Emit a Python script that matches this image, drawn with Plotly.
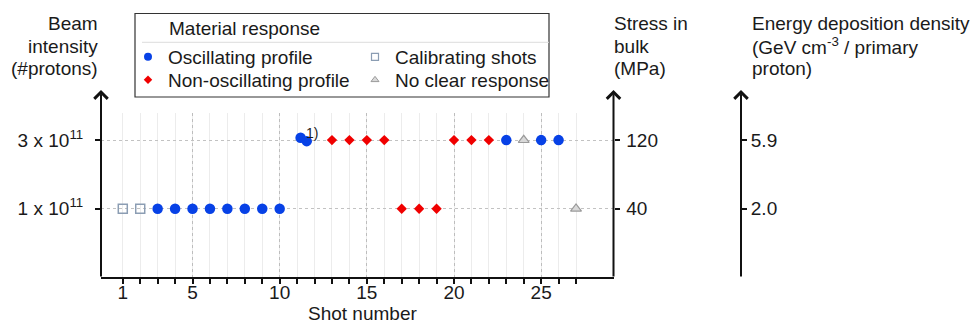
import plotly.graph_objects as go

# ---------------- data ----------------
calib_x = [1, 2]
calib_y = [1, 1]
osc_x = [3, 4, 5, 6, 7, 8, 9, 10, 11.2, 11.55, 23, 25, 26]
osc_y = [1, 1, 1, 1, 1, 1, 1, 1, 3.07, 2.97, 3, 3, 3]
nonosc_x = [13, 14, 15, 16, 17, 18, 19, 20, 21, 22]
nonosc_y = [3, 3, 3, 3, 1, 1, 1, 3, 3, 3]
noclear_x = [24, 27]
noclear_y = [3, 1]

intensity_levels = [1, 3]
intensity_labels = ["1 x 10<sup>11</sup>", "3 x 10<sup>11</sup>"]
stress_labels = ["40", "120"]
energy_labels = ["2.0", "5.9"]
shot_major = [1, 5, 10, 15, 20, 25]
shot_minor = [s for s in range(1, 28) if s not in shot_major]
shot_dotted = [5, 10, 15, 20, 25]

FONT = "Liberation Sans, Arial, sans-serif"
FS = 19
TXT = "#1a1a1a"
AX = "#111111"

BLUE = "#0741e6"
RED = "#f00000"

# plot area in pixels
L, R, T, B = 101, 741, 113, 277
W, H = R - L, B - T
X_RIGHT_AXIS = 613.5


def px(xp):
    return (xp - L) / W


def py(yp):
    return (B - yp) / H


fig = go.Figure()

# data traces
fig.add_trace(go.Scatter(x=calib_x, y=calib_y, mode="markers", showlegend=False,
                         marker=dict(symbol="square-open", size=9, color="#8b9db3",
                                     line=dict(width=1.5, color="#8b9db3"))))
fig.add_trace(go.Scatter(x=osc_x, y=osc_y, mode="markers", showlegend=False,
                         marker=dict(symbol="circle", size=10.5, color=BLUE,
                                     line=dict(width=0))))
fig.add_trace(go.Scatter(x=nonosc_x, y=nonosc_y, mode="markers", showlegend=False,
                         marker=dict(symbol="diamond", size=8, color=RED,
                                     line=dict(width=0))))
fig.add_trace(go.Scatter(x=noclear_x, y=noclear_y, mode="markers", showlegend=False,
                         marker=dict(symbol="triangle-up", size=9.5, color="#d9d9d9",
                                     line=dict(width=1.2, color="#9a9a9a"))))

# legend-only entries (two rows, one legend per row)
fig.add_trace(go.Scatter(x=[None], y=[None], mode="markers", name="Oscillating profile",
                         legend="legend",
                         marker=dict(symbol="circle", size=8, color=BLUE)))
fig.add_trace(go.Scatter(x=[None], y=[None], mode="markers", name="Calibrating shots",
                         legend="legend",
                         marker=dict(symbol="square-open", size=7, color="#8b9db3",
                                     line=dict(width=1.2, color="#8b9db3"))))
fig.add_trace(go.Scatter(x=[None], y=[None], mode="markers", name="Non-oscillating profile",
                         legend="legend2",
                         marker=dict(symbol="diamond", size=6.5, color=RED)))
fig.add_trace(go.Scatter(x=[None], y=[None], mode="markers", name="No clear response",
                         legend="legend2",
                         marker=dict(symbol="triangle-up", size=7, color="#d9d9d9",
                                     line=dict(width=1, color="#9a9a9a"))))

xdom = [0, px(X_RIGHT_AXIS)]
xrange_ = [-0.25, 29.15]
yrange_ = [-0.99, 3.79]

leg_common = dict(orientation="h", bgcolor="rgba(0,0,0,0)", borderwidth=0,
                  font=dict(family=FONT, size=FS, color=TXT),
                  xanchor="left", yanchor="top", entrywidth=182,
                  entrywidthmode="pixels", itemclick=False, itemdoubleclick=False)

fig.update_layout(
    width=974, height=326,
    margin=dict(l=L, r=974 - R, t=T, b=326 - B, pad=0),
    paper_bgcolor="white", plot_bgcolor="white",
    font=dict(family=FONT, size=FS, color=TXT),
    legend=dict(x=px(128), y=py(38), **leg_common),
    legend2=dict(x=px(128), y=py(61), **leg_common),
    xaxis=dict(
        domain=xdom, range=xrange_, showline=True, linewidth=2, linecolor=AX,
        tickmode="array", tickvals=shot_major, ticktext=[str(v) for v in shot_major],
        ticks="outside", ticklen=5, tickwidth=1.5, tickcolor=AX,
        ticklabelstandoff=-8,
        showgrid=True, gridcolor="#ececec", gridwidth=1,
        minor=dict(tickmode="array", tickvals=shot_minor, ticks="outside", ticklen=5,
                   tickwidth=1.5, tickcolor=AX, showgrid=True, gridcolor="#ececec",
                   gridwidth=1),
        zeroline=False, tickfont=dict(size=FS, color=TXT), fixedrange=True,
    ),
    xaxis2=dict(
        domain=xdom, range=xrange_, overlaying="x", anchor="y",
        tickmode="array", tickvals=shot_dotted, showticklabels=False, ticks="",
        showgrid=True, gridcolor="#bdbdbd", griddash="dot", gridwidth=1,
        showline=False, zeroline=False, fixedrange=True,
    ),
    yaxis=dict(
        range=yrange_, tickmode="array", tickvals=intensity_levels,
        ticktext=intensity_labels, ticks="outside", ticklen=5, tickwidth=1.5,
        tickcolor=AX, ticklabelstandoff=8, showline=False,
        showgrid=True, gridcolor="#c2c2c2", griddash="dot", gridwidth=1,
        zeroline=False, tickfont=dict(size=FS, color=TXT), fixedrange=True,
    ),
    yaxis2=dict(
        range=yrange_, overlaying="y", anchor="free", position=px(X_RIGHT_AXIS),
        side="right", tickmode="array", tickvals=intensity_levels,
        ticktext=stress_labels, ticks="outside", ticklen=5, tickwidth=1.5,
        tickcolor=AX, ticklabelstandoff=3, showline=False, showgrid=False,
        zeroline=False, tickfont=dict(size=FS, color=TXT), fixedrange=True,
    ),
    yaxis3=dict(
        range=yrange_, overlaying="y", anchor="free", position=1.0,
        side="right", tickmode="array", tickvals=intensity_levels,
        ticktext=energy_labels, ticks="outside", ticklen=5, tickwidth=1.5,
        tickcolor=AX, ticklabelstandoff=0, showline=False, showgrid=False,
        zeroline=False, tickfont=dict(size=FS, color=TXT), fixedrange=True,
    ),
)

# dummy traces so overlay axes are realised
fig.add_trace(go.Scatter(x=[None], y=[None], xaxis="x2", yaxis="y", showlegend=False,
                         hoverinfo="skip"))
fig.add_trace(go.Scatter(x=[None], y=[None], yaxis="y2", showlegend=False, hoverinfo="skip"))
fig.add_trace(go.Scatter(x=[None], y=[None], yaxis="y3", showlegend=False, hoverinfo="skip"))

annotations = []

# axis arrows
for xa in [L, X_RIGHT_AXIS, R]:
    annotations.append(dict(
        xref="paper", yref="paper", x=px(xa), y=py(90), ax=0, ay=B - 90 + 1,
        axref="pixel", ayref="pixel", text="", showarrow=True, arrowhead=4,
        arrowsize=1.3, arrowwidth=2, arrowcolor=AX, standoff=0, startstandoff=0,
    ))


def block(lines, x, anchor, centers):
    for txt, c in zip(lines, centers):
        annotations.append(dict(
            xref="paper", yref="paper", x=px(x), y=py(c), text=txt, showarrow=False,
            xanchor=anchor, yanchor="middle", align=anchor,
            font=dict(family=FONT, size=FS, color=TXT),
        ))


line_centers = [23, 46, 68]
block(["Beam", "intensity", "(#protons)"], 100, "right", line_centers)
block(["Stress in", "bulk", "(MPa)"], 612, "left", line_centers)
block(["Energy deposition density", "(GeV cm<sup>-3</sup> / primary", "proton)"], 750,
      "left", line_centers)

# legend title
annotations.append(dict(
    xref="paper", yref="paper", x=px(167), y=py(28), text="Material response",
    showarrow=False, xanchor="left", yanchor="middle",
    font=dict(family=FONT, size=FS, color=TXT),
))

# x-axis title
annotations.append(dict(
    xref="paper", yref="paper", x=px(362), y=py(313), text="Shot number",
    showarrow=False, xanchor="center", yanchor="middle",
    font=dict(family=FONT, size=FS, color=TXT),
))

# footnote marker
annotations.append(dict(
    x=11.85, y=3.2, xref="x", yref="y", text="1)", showarrow=False,
    xanchor="center", yanchor="middle", font=dict(family=FONT, size=14, color=TXT),
))

fig.update_layout(annotations=annotations)

# legend frame and separator
fig.add_shape(type="rect", xref="paper", yref="paper", x0=px(135), x1=px(549),
              y0=py(97), y1=py(13.5), line=dict(color="#333333", width=1.2),
              fillcolor="rgba(0,0,0,0)", layer="above")
fig.add_shape(type="line", xref="paper", yref="paper", x0=px(142), x1=px(549),
              y0=py(42.3), y1=py(42.3), line=dict(color="#dddddd", width=1))

fig.write_html("out.html", config={"displayModeBar": False})
